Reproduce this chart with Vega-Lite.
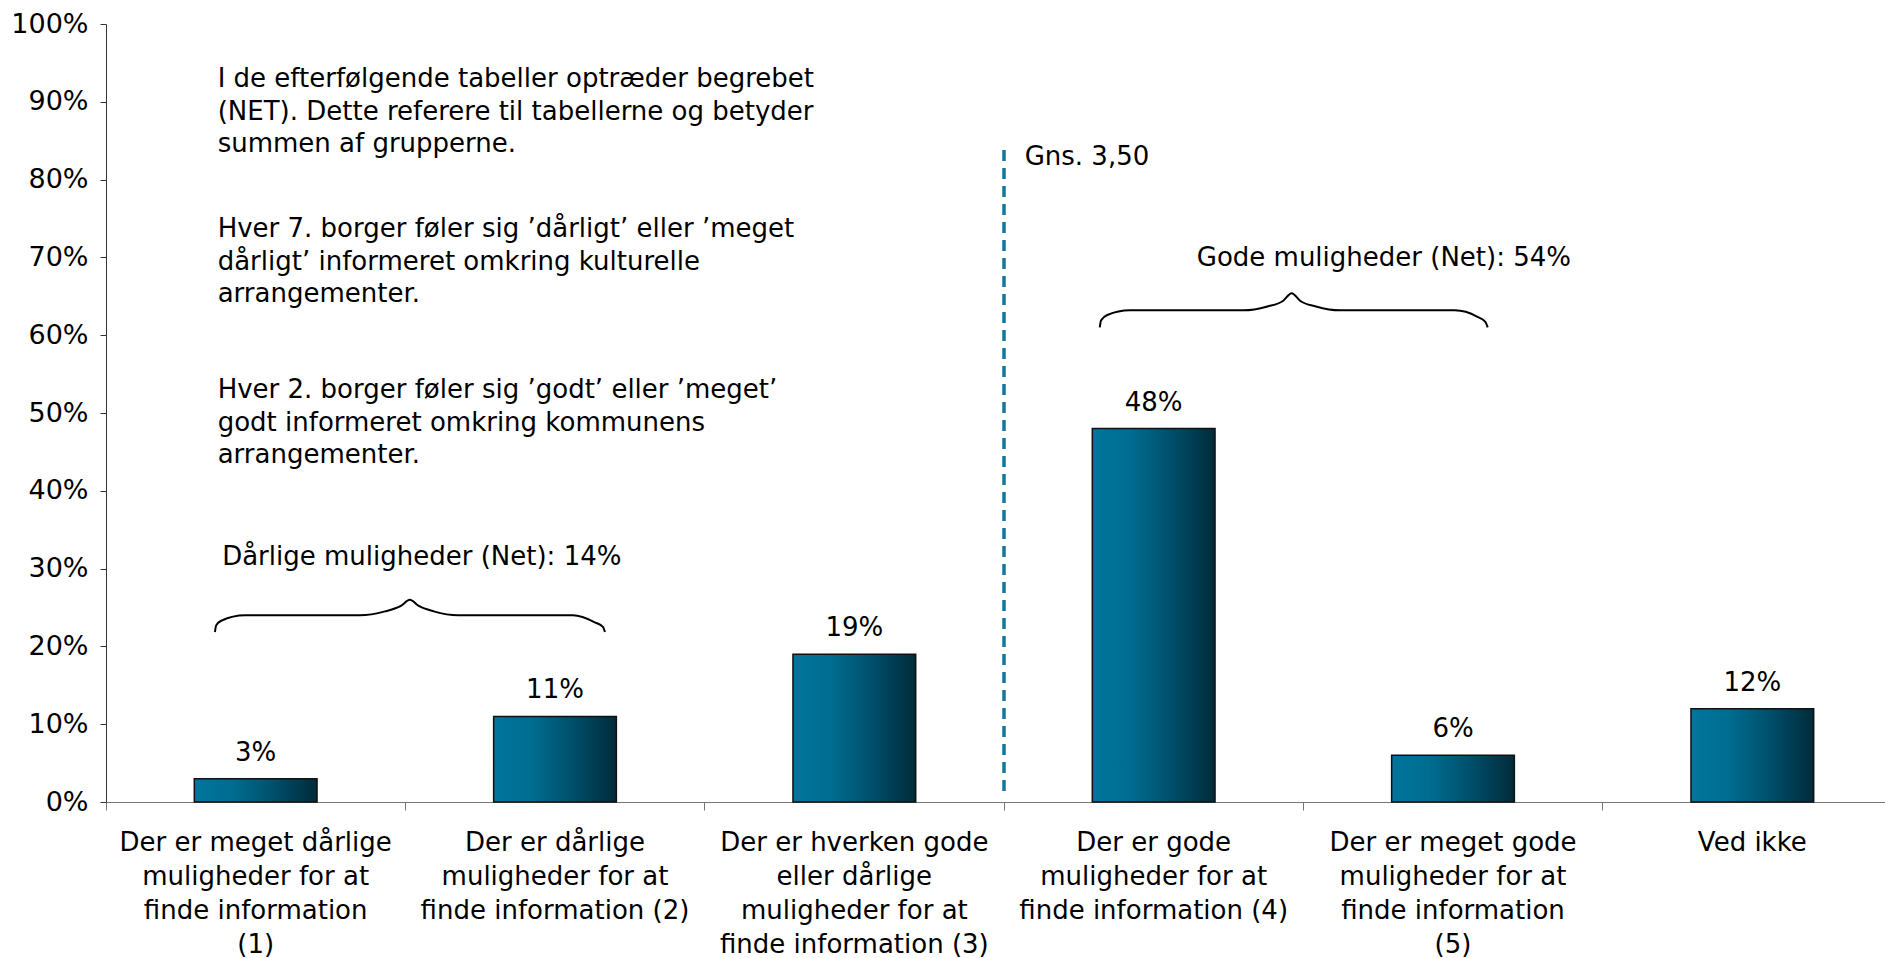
{
  "$schema": "https://vega.github.io/schema/vega-lite/v6.json",
  "autosize": "none",
  "width": 1779,
  "height": 778,
  "padding": {"left": 106, "top": 24, "right": 0, "bottom": 156},
  "background": "white",
  "config": {
    "view": {"stroke": null},
    "font": "DejaVu Sans",
    "text": {"font": "DejaVu Sans", "fontSize": 26, "color": "#000"},
    "axis": {"labelFont": "DejaVu Sans", "labelFontSize": 26, "labelColor": "#000", "grid": false, "title": null}
  },
  "datasets": {
    "bars": [
      {"kategori": "Der er meget dårlige|muligheder for at|finde information|(1)", "andel": 0.03},
      {"kategori": "Der er dårlige|muligheder for at|finde information (2)", "andel": 0.11},
      {"kategori": "Der er hverken gode|eller dårlige|muligheder for at|finde information (3)", "andel": 0.19},
      {"kategori": "Der er gode|muligheder for at|finde information (4)", "andel": 0.48},
      {"kategori": "Der er meget gode|muligheder for at|finde information|(5)", "andel": 0.06},
      {"kategori": "Ved ikke", "andel": 0.12}
    ],
    "braces": [
      {"gruppe": "Dårlige", "pos": 0.364, "niveau": 0.2185},
      {"gruppe": "Dårlige", "pos": 0.368, "niveau": 0.227},
      {"gruppe": "Dårlige", "pos": 0.385, "niveau": 0.233},
      {"gruppe": "Dårlige", "pos": 0.464, "niveau": 0.240},
      {"gruppe": "Dårlige", "pos": 0.848, "niveau": 0.240},
      {"gruppe": "Dårlige", "pos": 0.932, "niveau": 0.245},
      {"gruppe": "Dårlige", "pos": 0.985, "niveau": 0.252},
      {"gruppe": "Dårlige", "pos": 1.015, "niveau": 0.260},
      {"gruppe": "Dårlige", "pos": 1.045, "niveau": 0.252},
      {"gruppe": "Dårlige", "pos": 1.095, "niveau": 0.245},
      {"gruppe": "Dårlige", "pos": 1.176, "niveau": 0.240},
      {"gruppe": "Dårlige", "pos": 1.560, "niveau": 0.240},
      {"gruppe": "Dårlige", "pos": 1.633, "niveau": 0.231},
      {"gruppe": "Dårlige", "pos": 1.660, "niveau": 0.225},
      {"gruppe": "Dårlige", "pos": 1.667, "niveau": 0.2185},
      {"gruppe": "Gode", "pos": 3.320, "niveau": 0.610},
      {"gruppe": "Gode", "pos": 3.324, "niveau": 0.619},
      {"gruppe": "Gode", "pos": 3.345, "niveau": 0.626},
      {"gruppe": "Gode", "pos": 3.420, "niveau": 0.632},
      {"gruppe": "Gode", "pos": 3.800, "niveau": 0.632},
      {"gruppe": "Gode", "pos": 3.880, "niveau": 0.637},
      {"gruppe": "Gode", "pos": 3.932, "niveau": 0.644},
      {"gruppe": "Gode", "pos": 3.961, "niveau": 0.654},
      {"gruppe": "Gode", "pos": 3.990, "niveau": 0.644},
      {"gruppe": "Gode", "pos": 4.042, "niveau": 0.637},
      {"gruppe": "Gode", "pos": 4.122, "niveau": 0.632},
      {"gruppe": "Gode", "pos": 4.506, "niveau": 0.632},
      {"gruppe": "Gode", "pos": 4.580, "niveau": 0.624},
      {"gruppe": "Gode", "pos": 4.608, "niveau": 0.617},
      {"gruppe": "Gode", "pos": 4.616, "niveau": 0.610}
    ]
  },
  "encoding": {
    "y": {
      "type": "quantitative",
      "scale": {"domain": [0, 1], "nice": false, "zero": true},
      "axis": {
        "values": [0, 0.1, 0.2, 0.3, 0.4, 0.5, 0.6, 0.7, 0.8, 0.9, 1],
        "format": ".0%",
        "labelFontSize": 27,
        "domainColor": "#333",
        "tickColor": "#333",
        "tickSize": 6,
        "labelPadding": 12
      }
    }
  },
  "layer": [
    {
      "data": {"name": "bars"},
      "encoding": {
        "x": {
          "field": "kategori",
          "type": "nominal",
          "sort": null,
          "scale": {"type": "band", "range": [0, 1796], "paddingInner": 0, "paddingOuter": 0},
          "axis": {
            "labelAngle": 0,
            "labelLimit": 0,
            "labelExpr": "split(datum.label, '|')",
            "labelLineHeight": 34,
            "labelBaseline": "top",
            "labelPadding": 19,
            "bandPosition": 0,
            "tickSize": 8,
            "domainColor": "#777",
            "tickColor": "#777"
          }
        },
        "y": {"field": "andel"}
      },
      "layer": [
        {
          "mark": {
            "type": "bar",
            "width": {"band": 0.41},
            "stroke": "#111",
            "strokeWidth": 1.5,
            "fill": {
              "gradient": "linear",
              "x1": 0, "y1": 0, "x2": 1, "y2": 0,
              "stops": [
                {"offset": 0, "color": "#00759c"},
                {"offset": 0.3, "color": "#006d91"},
                {"offset": 0.6, "color": "#005370"},
                {"offset": 1, "color": "#012b39"}
              ]
            }
          }
        },
        {
          "mark": {"type": "text", "baseline": "middle", "align": "center", "dy": -26, "fontSize": 26},
          "encoding": {"text": {"field": "andel", "type": "quantitative", "format": ".0%"}}
        }
      ]
    },
    {
      "layer": [
        {
          "data": {"name": "braces"},
          "mark": {"type": "line", "color": "#000", "strokeWidth": 2, "interpolate": "monotone"},
          "encoding": {
            "x": {"field": "pos", "type": "quantitative", "scale": {"domain": [0, 6], "range": [0, 1796], "nice": false, "zero": false}, "axis": null},
            "y": {"field": "niveau"},
            "detail": {"field": "gruppe"}
          }
        },
        {
          "data": {"values": [{}]},
          "mark": {"type": "rule", "color": "#137799", "strokeWidth": 3.5, "strokeDash": [11, 7]},
          "encoding": {
            "x": {"datum": 3, "type": "quantitative", "scale": {"domain": [0, 6], "range": [0, 1796], "nice": false, "zero": false}, "axis": null},
            "y": {"datum": 0.838},
            "y2": {"datum": 0.011}
          }
        },
        {
          "data": {"values": [{}]},
          "mark": {"type": "text", "align": "left", "baseline": "middle", "fontSize": 26},
          "encoding": {
            "x": {"datum": 3.069, "type": "quantitative", "scale": {"domain": [0, 6], "range": [0, 1796], "nice": false, "zero": false}, "axis": null},
            "y": {"datum": 0.829},
            "text": {"value": "Gns. 3,50"}
          }
        },
        {
          "data": {"values": [{}]},
          "mark": {"type": "text", "align": "center", "baseline": "middle", "fontSize": 26},
          "encoding": {
            "x": {"datum": 1.055, "type": "quantitative", "scale": {"domain": [0, 6], "range": [0, 1796], "nice": false, "zero": false}, "axis": null},
            "y": {"datum": 0.315},
            "text": {"value": "Dårlige muligheder (Net): 14%"}
          }
        },
        {
          "data": {"values": [{}]},
          "mark": {"type": "text", "align": "center", "baseline": "middle", "fontSize": 26},
          "encoding": {
            "x": {"datum": 4.269, "type": "quantitative", "scale": {"domain": [0, 6], "range": [0, 1796], "nice": false, "zero": false}, "axis": null},
            "y": {"datum": 0.699},
            "text": {"value": "Gode muligheder (Net): 54%"}
          }
        },
        {
          "data": {"values": [{}]},
          "mark": {"type": "text", "align": "left", "baseline": "middle", "fontSize": 26, "lineHeight": 32.5},
          "encoding": {
            "x": {"datum": 0.373, "type": "quantitative", "scale": {"domain": [0, 6], "range": [0, 1796], "nice": false, "zero": false}, "axis": null},
            "y": {"datum": 0.929},
            "text": {"value": ["I de efterfølgende tabeller optræder begrebet", "(NET). Dette referere til tabellerne og betyder", "summen af grupperne."]}
          }
        },
        {
          "data": {"values": [{}]},
          "mark": {"type": "text", "align": "left", "baseline": "middle", "fontSize": 26, "lineHeight": 32.5},
          "encoding": {
            "x": {"datum": 0.373, "type": "quantitative", "scale": {"domain": [0, 6], "range": [0, 1796], "nice": false, "zero": false}, "axis": null},
            "y": {"datum": 0.736},
            "text": {"value": ["Hver 7. borger føler sig ’dårligt’ eller ’meget", "dårligt’ informeret omkring kulturelle", "arrangementer."]}
          }
        },
        {
          "data": {"values": [{}]},
          "mark": {"type": "text", "align": "left", "baseline": "middle", "fontSize": 26, "lineHeight": 32.5},
          "encoding": {
            "x": {"datum": 0.373, "type": "quantitative", "scale": {"domain": [0, 6], "range": [0, 1796], "nice": false, "zero": false}, "axis": null},
            "y": {"datum": 0.529},
            "text": {"value": ["Hver 2. borger føler sig ’godt’ eller ’meget’", "godt informeret omkring kommunens", "arrangementer."]}
          }
        }
      ]
    }
  ],
  "resolve": {"scale": {"x": "independent"}, "axis": {"x": "independent"}}
}
